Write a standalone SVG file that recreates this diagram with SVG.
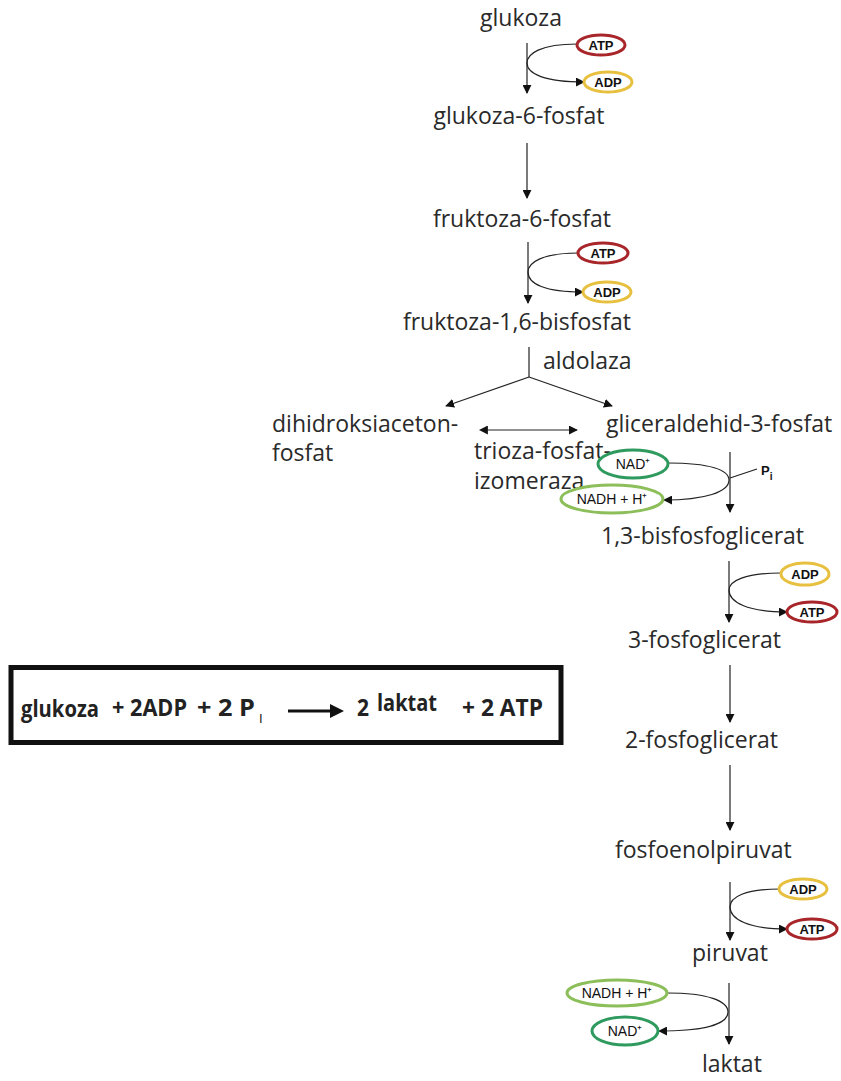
<svg xmlns="http://www.w3.org/2000/svg" width="841" height="1081" viewBox="0 0 841 1081">
<defs>
<marker id="ah" viewBox="0 0 10 10" refX="9" refY="5" markerWidth="9" markerHeight="9" markerUnits="userSpaceOnUse" orient="auto"><path d="M0,0 L10,5 L0,10 z" fill="#111"/></marker>
<marker id="ahs" viewBox="0 0 10 10" refX="1" refY="5" markerWidth="9" markerHeight="9" markerUnits="userSpaceOnUse" orient="auto-start-reverse"><path d="M0,0 L10,5 L0,10 z" fill="#111"/></marker>
<style>
.t{font-family:"Open Sans","Liberation Sans",sans-serif;font-size:23px;fill:#2a2a2a}
.o{font-family:"Liberation Sans",Arial,sans-serif;font-size:13px;font-weight:bold;fill:#111;text-anchor:middle}
.n{font-family:"Liberation Sans",Arial,sans-serif;font-size:14px;fill:#111;text-anchor:middle}
.ln{stroke:#222;stroke-width:1.2;fill:none}
.atp{fill:#fff;stroke:#a8262a;stroke-width:3}
.adp{fill:#fff;stroke:#e8c040;stroke-width:3}
.nad{fill:#fff;stroke:#2e9a5e;stroke-width:3}
.nadh{fill:#fff;stroke:#8cbf5a;stroke-width:3}
.b{font-family:"Open Sans","Liberation Sans",sans-serif;font-size:23px;font-weight:bold;fill:#222}
</style>
</defs>
<g id="connectors">
<line class="ln" x1="527" y1="43" x2="527" y2="93" marker-end="url(#ah)"/>
<path class="ln" d="M577,44 C540,44 527,54 527,63 C527,74 545,82 584,82" marker-end="url(#ah)"/>
<line class="ln" x1="527" y1="143" x2="527" y2="198" marker-end="url(#ah)"/>
<line class="ln" x1="528" y1="242" x2="528" y2="303" marker-end="url(#ah)"/>
<path class="ln" d="M579,253 C541,253 528,263 528,272 C528,284 545,292 583,292" marker-end="url(#ah)"/>
<line class="ln" x1="529" y1="347" x2="529" y2="377"/>
<line class="ln" x1="529" y1="377" x2="446" y2="406" marker-end="url(#ah)"/>
<line class="ln" x1="529" y1="377" x2="612" y2="406" marker-end="url(#ah)"/>
<line class="ln" x1="487" y1="430" x2="577" y2="430" marker-start="url(#ahs)" marker-end="url(#ah)"/>
<line class="ln" x1="730" y1="452" x2="730" y2="512" marker-end="url(#ah)"/>
<path class="ln" d="M668,463 C710,463 729,470 729,480 C729,492 705,500 664,500" marker-end="url(#ah)"/>
<line class="ln" x1="730" y1="478" x2="757" y2="469"/>
<line class="ln" x1="729" y1="561" x2="729" y2="622" marker-end="url(#ah)"/>
<path class="ln" d="M781,573 C745,573 729,581 729,590 C729,602 747,612 787,612" marker-end="url(#ah)"/>
<line class="ln" x1="730" y1="665" x2="730" y2="722" marker-end="url(#ah)"/>
<line class="ln" x1="730" y1="765" x2="730" y2="830" marker-end="url(#ah)"/>
<line class="ln" x1="730" y1="882" x2="730" y2="940" marker-end="url(#ah)"/>
<path class="ln" d="M780,889 C745,889 730,897 730,907 C730,919 748,929 787,929" marker-end="url(#ah)"/>
<line class="ln" x1="729" y1="983" x2="729" y2="1044" marker-end="url(#ah)"/>
<path class="ln" d="M667,993 C708,993 728,1001 728,1012 C728,1024 705,1031 659,1031" marker-end="url(#ah)"/>
</g>
<g id="glukoza"><text class="t" x="521" y="26" text-anchor="middle">glukoza</text></g>
<g id="atp1"><ellipse class="atp" cx="601" cy="45" rx="24" ry="10"/><text class="o" x="601" y="50">ATP</text></g>
<g id="adp1"><ellipse class="adp" cx="608" cy="82" rx="24" ry="10"/><text class="o" x="608" y="87">ADP</text></g>
<g id="g6p"><text class="t" x="519" y="124" text-anchor="middle">glukoza-6-fosfat</text></g>
<g id="f6p"><text class="t" x="522" y="227" text-anchor="middle">fruktoza-6-fosfat</text></g>
<g id="atp2"><ellipse class="atp" cx="603" cy="253" rx="25" ry="10"/><text class="o" x="603" y="258">ATP</text></g>
<g id="adp2"><ellipse class="adp" cx="607" cy="292" rx="24" ry="10"/><text class="o" x="607" y="297">ADP</text></g>
<g id="f16bp"><text class="t" x="517" y="330" text-anchor="middle">fruktoza-1,6-bisfosfat</text></g>
<g id="aldolaza"><text class="t" x="543" y="369">aldolaza</text></g>
<g id="dhap"><text class="t" x="272" y="432">dihidroksiaceton-</text><text class="t" x="272" y="461">fosfat</text></g>
<g id="tpi"><text class="t" x="474" y="459">trioza-fosfat-</text><text class="t" x="474" y="489">izomeraza</text></g>
<g id="g3p"><text class="t" x="606" y="432">gliceraldehid-3-fosfat</text></g>
<g id="nad1"><ellipse class="nad" cx="633" cy="464" rx="35" ry="14"/><text class="n" x="633" y="469">NAD⁺</text></g>
<g id="nadh1"><ellipse class="nadh" cx="612" cy="499" rx="51" ry="14"/><text class="n" x="612" y="504">NADH + H⁺</text></g>
<g id="pi1"><text class="o" x="761" y="475" style="text-anchor:start">P<tspan font-size="10" dy="5">i</tspan></text></g>
<g id="bpg"><text class="t" x="601" y="544">1,3-bisfosfoglicerat</text></g>
<g id="adp3"><ellipse class="adp" cx="805" cy="574" rx="24" ry="11"/><text class="o" x="805" y="579">ADP</text></g>
<g id="atp3"><ellipse class="atp" cx="812" cy="612" rx="25" ry="10"/><text class="o" x="812" y="617">ATP</text></g>
<g id="pg3"><text class="t" x="628" y="648">3-fosfoglicerat</text></g>
<g id="pg2"><text class="t" x="625" y="748">2-fosfoglicerat</text></g>
<g id="pep"><text class="t" x="615" y="858">fosfoenolpiruvat</text></g>
<g id="adp4"><ellipse class="adp" cx="803" cy="889" rx="24" ry="10"/><text class="o" x="803" y="894">ADP</text></g>
<g id="atp4"><ellipse class="atp" cx="812" cy="929" rx="25" ry="10"/><text class="o" x="812" y="934">ATP</text></g>
<g id="piruvat"><text class="t" x="692" y="961">piruvat</text></g>
<g id="nadh2"><ellipse class="nadh" cx="617" cy="993" rx="50" ry="13"/><text class="n" x="617" y="998">NADH + H⁺</text></g>
<g id="nad2"><ellipse class="nad" cx="625" cy="1031" rx="33" ry="14"/><text class="n" x="625" y="1036">NAD⁺</text></g>
<g id="laktat"><text class="t" x="702" y="1072">laktat</text></g>
<g id="summary">
<rect x="11" y="667.5" width="550" height="75" fill="#fff" stroke="#111" stroke-width="5"/>
<text class="b" x="21" y="717" textLength="78" lengthAdjust="spacingAndGlyphs">glukoza</text>
<text class="b" x="112" y="716" textLength="75" lengthAdjust="spacingAndGlyphs">+ 2ADP</text>
<text class="b" x="197" y="716" textLength="58" lengthAdjust="spacingAndGlyphs">+ 2 P</text>
<text x="259" y="723" font-family="Liberation Sans, Arial, sans-serif" font-size="13" fill="#222">I</text>
<line x1="288" y1="711" x2="333" y2="711" stroke="#111" stroke-width="3"/>
<path d="M330,704 L344,711 L330,718 z" fill="#111"/>
<text class="b" x="357" y="716" textLength="12" lengthAdjust="spacingAndGlyphs">2</text>
<text class="b" x="377" y="711" textLength="60" lengthAdjust="spacingAndGlyphs">laktat</text>
<text class="b" x="462" y="716" textLength="81" lengthAdjust="spacingAndGlyphs">+ 2 ATP</text>
</g>
</svg>
